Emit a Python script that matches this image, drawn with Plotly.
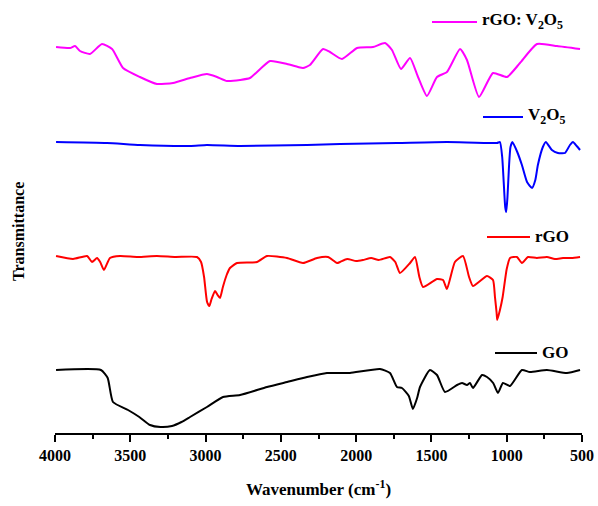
import plotly.graph_objects as go

# ---------------- data (arbitrary transmittance units) ----------
go_wn = [3993, 3695, 3650, 3615, 3515, 3440, 3369, 3300, 3223, 3160, 3103, 2991, 2884, 2771,
         2592, 2459, 2326, 2194, 2107, 2041, 1842, 1775, 1729, 1696, 1650, 1623, 1595, 1576,
         1510, 1463, 1410, 1330, 1297, 1264, 1244, 1224, 1164, 1131, 1090, 1058, 1025, 978,
         899, 846, 733, 600, 513]
go_t = [0, 0, -8, -32, -40, -47, -55, -57, -56, -52, -47, -37, -27, -25,
        -17, -12, -7, -3, -3, -3, 1, -3, -17, -18, -26, -39, -28, -17,
        0, -5, -22, -15, -13, -15, -13, -18, -5, -7, -13, -23, -13, -16,
        0, -2, 0, -3, 0]

rgo_wn = [3993, 3880, 3787, 3754, 3721, 3700, 3675, 3635, 3568, 3450, 3323, 3200, 3057, 3030,
          3010, 2990, 2975, 2960, 2937, 2920, 2904, 2885, 2860, 2838, 2791, 2659, 2592, 2459,
          2353, 2260, 2187, 2127, 2107, 2060, 2000, 1955, 1900, 1850, 1775, 1740, 1709, 1642,
          1609, 1580, 1556, 1463, 1423, 1397, 1344, 1290, 1250, 1224, 1131, 1091, 1078, 1067,
          1063, 1045, 1027, 1000, 978, 932, 899, 859, 800, 733, 680, 626, 570, 513]
rgo_t = [1, -2, 1, -5, -1, -5, -13, -1, 1, 0, 1, 0, 0, -5,
         -20, -45, -49, -42, -34, -38, -41, -30, -18, -11, -6, -5, 1, -1,
         -6, -1, 0, -6, -5, -2, -4, -3, -1, -3, 0, -5, -16, -6,
         0, -20, -30, -22, -23, -32, -5, 1, -20, -29, -19, -23, -40, -56,
         -63, -53, -40, -12, -1, 0, -6, 0, -1, 0, -2, -1, -1, 0]

v2o5_wn = [3993, 3655, 3436, 3103, 2991, 2771, 2326, 2107, 1729, 1397, 1065, 1045, 1030, 1020,
           1010, 1003, 995, 985, 975, 962, 930, 899, 865, 832, 810, 793, 760, 740, 700,
           660, 613, 580, 560, 535, 513]
v2o5_t = [0, -1, -3, -4, -3, -4, -3, -2, -1, 0, -1, 0, -15, -40,
          -65, -70, -55, -25, -5, 0, -10, -23, -40, -46, -38, -23, -5, 0, -8,
          -11, -11, -3, 0, -4, -8]

mix_wn = [3993, 3900, 3867, 3834, 3768, 3688, 3621, 3548, 3436, 3323, 3216, 3103, 2991, 2924,
          2858, 2771, 2705, 2572, 2459, 2386, 2353, 2307, 2220, 2174, 2094, 1994, 1888, 1808,
          1762, 1702, 1642, 1589, 1530, 1463, 1397, 1310, 1264, 1184, 1091, 998, 912, 799,
          666, 513]
mix_t = [-1, -2, 0, -5, -8, 2, -3, -22, -31, -38, -37, -32, -28, -31,
         -35, -34, -32, -15, -18, -21, -22, -19, -3, -6, -13, -2, -1, 3,
         -4, -23, -12, -31, -50, -31, -26, -3, -14, -51, -27, -31, -17, 2,
         0, -3]

names = ["GO", "rGO", "V<sub>2</sub>O<sub>5</sub>", "rGO: V<sub>2</sub>O<sub>5</sub>"]
colors = ["#000000", "#FF0000", "#0000FF", "#FF00FF"]
offsets = [63, 176, 291, 387]
x_ticks = [4000, 3500, 3000, 2500, 2000, 1500, 1000, 500]

series = [(go_wn, go_t), (rgo_wn, rgo_t), (v2o5_wn, v2o5_t), (mix_wn, mix_t)]

font_family = "Liberation Serif, Times New Roman, serif"

fig = go.Figure()
for (wn, t), name, col, off in zip(series, names, colors, offsets):
    fig.add_trace(go.Scatter(
        x=wn, y=[v + off for v in t], mode="lines", name=name,
        line=dict(color=col, width=2, shape="spline", smoothing=0.5),
        showlegend=False))

W, H = 598, 506
L, R, T, B = 55, 16, 10, 73
pw, ph = W - L - R, H - T - B

def py_to_paper(py):
    return (H - B - py) / ph

def px_to_paper(px):
    return (px - L) / pw

# legend samples: (line start px, line end px, y px)
legend_pos = [(495, 537, 353), (487, 530, 237), (483, 523, 117), (432, 477, 22)]
shapes = []
annotations = []
for (x0, x1, y0), name, col in zip(legend_pos, names, colors):
    shapes.append(dict(type="line", xref="paper", yref="paper",
                       x0=px_to_paper(x0), x1=px_to_paper(x1),
                       y0=py_to_paper(y0), y1=py_to_paper(y0),
                       line=dict(color=col, width=2)))
    annotations.append(dict(text="<b>" + name + "</b>", xref="paper", yref="paper",
                            x=px_to_paper(x1 + 3), y=py_to_paper(y0 - 1),
                            xanchor="left", yanchor="middle", showarrow=False,
                            font=dict(family=font_family, size=17, color="black")))

annotations.append(dict(text="<b>Transmittance</b>", xref="paper", yref="paper",
                        x=px_to_paper(18), y=py_to_paper(232), textangle=-90,
                        showarrow=False, xanchor="center", yanchor="middle",
                        font=dict(family=font_family, size=16, color="black")))

fig.update_layout(
    width=W, height=H,
    margin=dict(l=L, r=R, t=T, b=B, autoexpand=False),
    paper_bgcolor="white", plot_bgcolor="white",
    font=dict(family=font_family, color="black"),
    showlegend=False,
    xaxis=dict(
        range=[4000, 500], tickvals=x_ticks, ticktext=["<b>%d</b>" % v for v in x_ticks],
        showgrid=False, zeroline=False, showline=True, linecolor="black", linewidth=2,
        ticks="outside", ticklen=7, tickwidth=2, tickcolor="black",
        minor=dict(dtick=250, ticks="outside", ticklen=4, tickwidth=2, tickcolor="black"),
        tickfont=dict(family=font_family, size=16, color="black"),
        title=dict(text="<b>Wavenumber (cm<sup>-1</sup>)</b>",
                   font=dict(family=font_family, size=17, color="black"), standoff=20),
    ),
    yaxis=dict(range=[0, ph], showgrid=False, zeroline=False, showline=False,
               showticklabels=False, ticks=""),
    shapes=shapes,
    annotations=annotations,
)

fig.write_html("out.html")
